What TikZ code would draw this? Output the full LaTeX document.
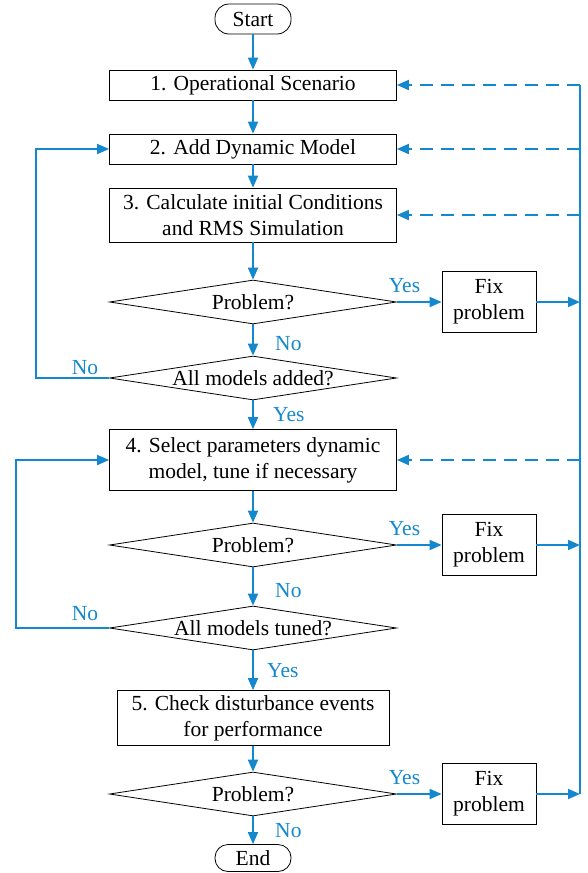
\documentclass[tikz,border=0pt]{standalone}
\usepackage{fontspec}
\setmainfont{Liberation Serif}
\usepackage{xcolor}
\usetikzlibrary{shapes.geometric,arrows.meta}
\definecolor{flowblue}{RGB}{20,136,206}

\begin{document}
\begin{tikzpicture}[x=1pt, y=-1pt,
        every node/.style={font=\fontsize{21.5}{26}\selectfont},
        box/.style={draw, line width=0.8pt, minimum width=287pt, minimum height=30pt, align=center, inner sep=1pt},
        term/.style={draw, line width=0.8pt, rounded corners=14pt, minimum width=76pt, minimum height=30pt, inner sep=1pt},
        dia/.style={draw, line width=0.8pt, diamond, minimum width=287pt, minimum height=44pt, inner sep=0pt},
        fix/.style={draw, line width=0.8pt, minimum width=94pt, minimum height=61pt, align=center, inner sep=1pt},
        arr/.style={flowblue, line width=1.8pt, -{Triangle[length=12pt,width=10pt]}},
        back/.style={arr, dash pattern=on 13pt off 8pt},
        rail/.style={flowblue, line width=1.8pt}]
    \useasboundingbox (0,0) rectangle (588,873);

    \node[term] (start) at (253,19) {Start};
    \node[box] (b1) at (253,85) {1. Operational Scenario};
    \node[box] (b2) at (253,149) {2. Add Dynamic Model};
    \node[box, minimum height=54pt] (b3) at (253,215) {3. Calculate initial Conditions\\and RMS Simulation};
    \node[dia] (p1) at (253,302) {\makebox[0pt]{Problem?}};
    \node[fix] (f1) at (489,302) {Fix\\problem};
    \node[dia] (a1) at (253,378) {\makebox[0pt]{All models added?}};
    \node[box, minimum height=61pt] (b4) at (253,460) {4. Select parameters dynamic\\model, tune if necessary};
    \node[dia] (p2) at (253,545) {\makebox[0pt]{Problem?}};
    \node[fix] (f2) at (489,545) {Fix\\problem};
    \node[dia] (a2) at (253,628) {\makebox[0pt]{All models tuned?}};
    \node[box, minimum width=272pt, minimum height=55pt] (b5) at (253,718) {5. Check disturbance events\\for performance};
    \node[dia] (p3) at (253,794) {\makebox[0pt]{Problem?}};
    \node[fix] (f3) at (489,794) {Fix\\problem};
    \node[term, minimum height=27pt, rounded corners=13pt] (end) at (253,858) {End};

    \draw[arr] (start) -- (b1);
    \draw[arr] (b1) -- (b2);
    \draw[arr] (b2) -- (b3);
    \draw[arr] (b3) -- (p1);
    \draw[arr] (p1) -- node[right, pos=0.6, xshift=18pt] {No} (a1);
    \draw[arr] (a1) -- node[right, pos=0.5, xshift=16pt] {Yes} (b4);
    \draw[arr] (b4) -- (p2);
    \draw[arr] (p2) -- node[right, pos=0.6, xshift=18pt] {No} (a2);
    \draw[arr] (a2) -- node[right, pos=0.5, xshift=10pt] {Yes} (b5);
    \draw[arr] (b5) -- (p3);
    \draw[arr] (p3) -- node[right, pos=0.5, xshift=18pt] {No} (end);

    \draw[arr] (p1.east) -- node[above, pos=0.17, yshift=5pt] {Yes} (p1.east -| f1.west);
    \draw[arr] (p2.east) -- node[above, pos=0.17, yshift=5pt] {Yes} (p2.east -| f2.west);
    \draw[arr] (p3.east) -- node[above, pos=0.17, yshift=5pt] {Yes} (p3.east -| f3.west);

    \draw[arr] (a1.west) -- node[above, pos=0.33, yshift=-1pt] {No} ++(-73,0) |- (b2.west);
    \draw[arr] (a2.west) -- node[above, pos=0.26, yshift=3pt] {No} ++(-93,0) |- (b4.west);

    \coordinate (rt) at (580,85);
    \coordinate (rb) at (580,794);
    \draw[rail] (rb) -- (rt);
    \foreach \n in {f1,f2,f3}
        \draw[arr] (\n.east) -- (\n.east -| rt);
    \foreach \n in {b1,b2,b3,b4}
        \draw[back] (\n.east -| rt) -- (\n.east);
\end{tikzpicture}
\end{document}
